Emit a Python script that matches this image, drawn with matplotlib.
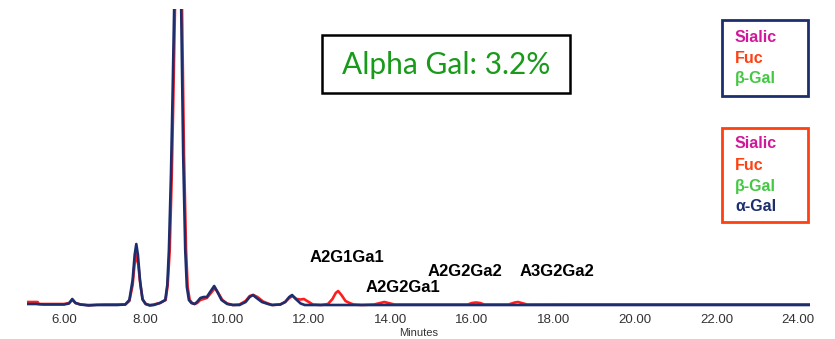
import matplotlib
matplotlib.use("Agg")
import matplotlib.pyplot as plt
from matplotlib.patches import Rectangle

# chromatogram traces (minutes, detector response)
navy_t = [5.09, 5.3, 5.5, 6.0, 6.12, 6.2, 6.28, 6.4, 6.6, 6.8, 7.0, 7.3, 7.5, 7.6, 7.68, 7.73,
          7.77, 7.81, 7.86, 7.92, 8.0, 8.1, 8.2, 8.35, 8.48, 8.53, 8.57, 8.62, 8.66, 8.70,
          8.75, 8.79, 8.83, 8.87, 8.92, 8.97, 9.01, 9.06, 9.12, 9.2, 9.26, 9.34, 9.42, 9.5,
          9.58, 9.68, 9.76, 9.86, 10.0, 10.14, 10.3, 10.45, 10.55, 10.63, 10.72, 10.85, 11.0,
          11.1, 11.3, 11.42, 11.52, 11.59, 11.68, 11.8, 11.9, 14.0, 18.0, 24.27]
navy_y = [1, 1, 0.5, 0.5, 1.5, 6, 2, 0.5, -0.5, 0, 0, 0, 0.5, 5, 25, 50,
          61, 50, 25, 6, 1, -0.5, 0, 2, 5, 20, 55, 130, 210, 300,
          520, 600, 520, 300, 150, 55, 18, 5, 2, 1, 3, 7, 8, 8,
          13, 19, 13, 5, 1, 0, 0, 3, 8, 10, 7, 3, 1,
          0, 0.5, 3, 8, 10, 6, 1.5, 0, 0, 0, 0]

red_t = [5.09, 5.35, 5.38, 6.0, 6.12, 6.2, 6.28, 6.4, 6.6, 7.0, 7.5, 7.6, 7.68, 7.73, 7.77,
         7.82, 7.87, 7.93, 8.0, 8.1, 8.2, 8.35, 8.49, 8.54, 8.59, 8.64, 8.68, 8.72, 8.77,
         8.81, 8.85, 8.89, 8.94, 8.99, 9.03, 9.08, 9.14, 9.2, 9.26, 9.34, 9.42, 9.5, 9.6,
         9.70, 9.78, 9.88, 10.0, 10.14, 10.3, 10.45, 10.55, 10.64, 10.74, 10.88, 11.0, 11.1,
         11.3, 11.42, 11.52, 11.6, 11.7, 11.8, 11.88, 11.96, 12.1, 12.3, 12.47, 12.58, 12.66,
         12.72, 12.8, 12.9, 13.0, 13.1, 13.3, 13.6, 13.75, 13.85, 13.95, 14.1, 15.9, 16.0,
         16.1, 16.2, 16.3, 16.9, 17.05, 17.13, 17.22, 17.35, 18.4, 19.3, 21.7, 22.3, 24.27]
red_y = [3, 3, 1, 1, 2, 5, 2, 0.5, 0, 0.5, 0.5, 4, 20, 42, 50,
         40, 20, 5, 1, 0, 0.5, 2, 5, 20, 55, 130, 210, 300, 520,
         600, 520, 300, 150, 55, 18, 5, 2, 1, 2, 5, 6, 7, 12,
         17, 12, 5, 1.5, 0, 0.5, 4, 9, 10, 8, 3.5, 1.5, 0,
         0.5, 3, 7, 9, 6, 5.5, 6, 4, 0.5, 0, 1, 6, 12,
         14, 10, 4, 2, 0.5, 0, 0.5, 2, 3, 2, 0.5, 0.5, 2,
         2.5, 2, 0.5, 0.5, 2.5, 3, 2, 0.5, 0.6, 0.6, 0.6, 0.6, 0.6]

ticks = [6, 8, 10, 12, 14, 16, 18, 20, 22, 24]
tick_labels = ["6.00", "8.00", "10.00", "12.00", "14.00", "16.00", "18.00", "20.00", "22.00", "24.00"]

peak_names = ["A2G1Ga1", "A2G2Ga1", "A2G2Ga2", "A3G2Ga2"]
peak_label_t = [12.93, 14.31, 15.82, 18.09]
peak_label_y = [48, 17, 34, 33]

alpha_gal_pct = 3.2

NAVY = "#1c2e6e"
RED = "#ff1e1e"
MAGENTA = "#d0199a"
ORANGE = "#ff4010"
GREEN = "#44c844"

W, H = 835, 339
fig = plt.figure(figsize=(W / 100, H / 100), dpi=100)


def fbox(x0, y0, x1, y1):
    # pixel box (top-left origin) -> figure fraction [left, bottom, width, height]
    return [x0 / W, 1 - y1 / H, (x1 - x0) / W, (y1 - y0) / H]


ax = fig.add_axes(fbox(27, 9, 810, 310))
ax.plot(red_t, red_y, color=RED, lw=1.9, zorder=2)
ax.plot(navy_t, navy_y, color=NAVY, lw=1.9, zorder=3)
ax.set_xlim(5.09, 24.29)
ax.set_ylim(-5, 296)
for s in ax.spines.values():
    s.set_visible(False)
ax.set_yticks([])
ax.set_xticks(ticks)
ax.set_xticklabels(tick_labels, family="Liberation Sans", fontsize=9.5, color="#333333")
ax.tick_params(axis="x", length=0, pad=3)
ax.set_xlabel("Minutes", family="Liberation Sans", fontsize=8, color="#333333", labelpad=1)

for name, t, y in zip(peak_names, peak_label_t, peak_label_y):
    ax.text(t, y, name, ha="center", va="center", fontsize=12, fontweight="bold",
            family="Liberation Sans", color="black")

# result box
fig.add_artist(Rectangle(fbox(322, 35, 570, 93)[:2], *fbox(322, 35, 570, 93)[2:],
                         transform=fig.transFigure, fill=False, ec="black", lw=1.8))
fig.text(446 / W, 1 - 65 / H, f"Alpha Gal: {alpha_gal_pct}%", ha="center", va="center",
         family="Lato", fontsize=21.5, color="#1a9a1a")

# legend boxes
fig.add_artist(Rectangle(fbox(722, 20, 808, 96)[:2], *fbox(722, 20, 808, 96)[2:],
                         transform=fig.transFigure, fill=False, ec=NAVY, lw=2))
fig.add_artist(Rectangle(fbox(722, 128, 808, 222)[:2], *fbox(722, 128, 808, 222)[2:],
                         transform=fig.transFigure, fill=False, ec=ORANGE, lw=2))

legend1 = [("Sialic", MAGENTA), ("Fuc", ORANGE), ("\u03b2-Gal", GREEN)]
legend2 = [("Sialic", MAGENTA), ("Fuc", ORANGE), ("\u03b2-Gal", GREEN), ("\u03b1-Gal", NAVY)]
for i, (txt, c) in enumerate(legend1):
    fig.text(735 / W, 1 - (38 + 20.5 * i) / H, txt, ha="left", va="center",
             family="Liberation Sans", fontsize=11.5, fontweight="bold", color=c)
for i, (txt, c) in enumerate(legend2):
    fig.text(735 / W, 1 - (144 + 21 * i) / H, txt, ha="left", va="center",
             family="Liberation Sans", fontsize=11.5, fontweight="bold", color=c)

fig.savefig("out.png", dpi=100)
